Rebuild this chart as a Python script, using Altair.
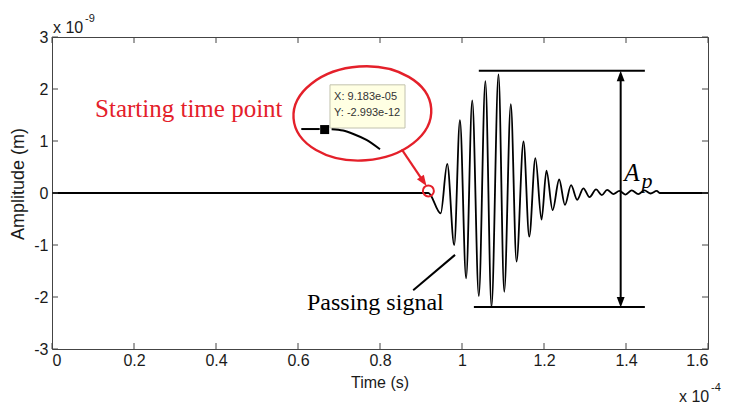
import altair as alt
import pandas as pd

# ---- data (time in units of 1e-4 s, amplitude in units of 1e-9 m) ----
t_sig = [0.0, 0.918, 0.948, 0.964, 0.981, 0.995, 1.010, 1.025, 1.041, 1.057,
         1.072, 1.089, 1.103, 1.119, 1.133, 1.150, 1.164, 1.179, 1.194, 1.206,
         1.221, 1.237, 1.251, 1.266, 1.281, 1.296, 1.311, 1.327, 1.341, 1.354,
         1.369, 1.384, 1.399, 1.414, 1.430, 1.445, 1.460, 1.475, 1.482, 1.6]
v_sig = [0.0, 0.0, -0.39, 0.56, -1.00, 1.40, -1.64, 1.78, -1.98, 2.15,
         -2.19, 2.28, -1.90, 1.71, -1.32, 0.99, -0.84, 0.67, -0.51, 0.43,
         -0.33, 0.26, -0.23, 0.15, -0.13, 0.09, -0.08, 0.07, -0.04, 0.06,
         -0.02, 0.04, -0.03, 0.05, -0.02, 0.05, -0.01, 0.04, 0.0, 0.0]

x_ticks = [0, 0.2, 0.4, 0.6, 0.8, 1.0, 1.2, 1.4, 1.6]
y_ticks = [-3, -2, -1, 0, 1, 2, 3]

# zoomed inset (inside the red ellipse)
inset_line_t = [0.608, 0.653]
inset_line_v = [1.23, 1.23]
marker_t = [0.665]
marker_v = [1.22]
inset_curve_t = [0.682, 0.710, 0.735, 0.767, 0.800]
inset_curve_v = [1.225, 1.20, 1.135, 1.02, 0.84]

# data tip
box_t = [0.678, 0.861]
box_v = [2.08, 1.25]
tip_text = ["X: 9.183e-05", "Y: -2.993e-12"]
tip_t = [0.688, 0.688]
tip_v = [1.85, 1.53]

# red annotations
ellipse_t = [0.757]
ellipse_v = [1.53]
start_t = [0.918]
start_v = [0.04]
red_arrow_t = [0.853, 0.906]
red_arrow_v = [0.84, 0.22]
start_label = ["Starting time point"]
start_label_t = [0.105]
start_label_v = [1.46]

# A_p measurement
ap_top_t = [1.041, 1.446]
ap_top_v = [2.35]
ap_bot_t = [1.029, 1.446]
ap_bot_v = [-2.19]
ap_arrow_t = [1.387]
ap_arrow_v = [2.25, -2.10]

# passing signal label
pass_line_t = [0.881, 0.983]
pass_line_v = [-1.87, -1.19]
pass_label = ["Passing signal"]
pass_label_t = [0.622]
pass_label_v = [-2.25]

W, H = 656, 312
RED = "#e4202a"
SANS = "Liberation Sans"
SERIF = "Liberation Serif"

xs = alt.Scale(domain=[0, 1.6], nice=False, zero=False)
ys = alt.Scale(domain=[-3, 3], nice=False, zero=False)


def X(field="t"):
    return alt.X(f"{field}:Q", scale=xs)


def Y(field="v"):
    return alt.Y(f"{field}:Q", scale=ys)


sig_df = pd.DataFrame({"t": t_sig, "v": v_sig})
signal = alt.Chart(sig_df).mark_line(
    color="black", strokeWidth=1.8, interpolate="monotone"
).encode(
    x=alt.X("t:Q", scale=xs, title="",
            axis=alt.Axis(values=x_ticks, labelExpr="'' + datum.value", ticks=False,
                          domain=False, grid=False, labelFontSize=16, labelFont=SANS,
                          labelColor="#1a1a1a", labelPadding=3)),
    y=alt.Y("v:Q", scale=ys, title="",
            axis=alt.Axis(values=y_ticks, labelExpr="'' + datum.value", ticks=False,
                          domain=False, grid=False, labelFontSize=16, labelFont=SANS,
                          labelColor="#1a1a1a", labelPadding=4)),
)

xt = pd.DataFrame({"t": x_ticks})
yt = pd.DataFrame({"v": y_ticks})
tick_style = dict(color="#444", strokeWidth=1)
ticks = [
    alt.Chart(xt).mark_rule(**tick_style).encode(x=X(), y=alt.value(H), y2=alt.value(H - 6)),
    alt.Chart(xt).mark_rule(**tick_style).encode(x=X(), y=alt.value(0), y2=alt.value(6)),
    alt.Chart(yt).mark_rule(**tick_style).encode(y=Y(), x=alt.value(0), x2=alt.value(6)),
    alt.Chart(yt).mark_rule(**tick_style).encode(y=Y(), x=alt.value(W), x2=alt.value(W - 6)),
]

# inset
inset_line = alt.Chart(pd.DataFrame({"t": inset_line_t, "v": inset_line_v})).mark_line(
    color="black", strokeWidth=2).encode(x=X(), y=Y())
inset_curve = alt.Chart(pd.DataFrame({"t": inset_curve_t, "v": inset_curve_v})).mark_line(
    color="black", strokeWidth=2, interpolate="monotone").encode(x=X(), y=Y())
marker = alt.Chart(pd.DataFrame({"t": marker_t, "v": marker_v})).mark_point(
    shape="square", filled=True, color="black", size=81, opacity=1).encode(x=X(), y=Y())

box = alt.Chart(pd.DataFrame({"t": [box_t[0]], "t2": [box_t[1]],
                              "v": [box_v[0]], "v2": [box_v[1]]})).mark_rect(
    fill="#ffffe3", stroke="#c2c2ae", strokeWidth=1).encode(
    x=X(), x2="t2:Q", y=Y(), y2="v2:Q")
tip = alt.Chart(pd.DataFrame({"t": tip_t, "v": tip_v, "s": tip_text})).mark_text(
    align="left", baseline="middle", font=SANS, fontSize=11, color="#333").encode(
    x=X(), y=Y(), text="s:N")

ELLIPSE = ("M-1,0 C-1,-0.376 -0.552,-0.681 0,-0.681 C0.552,-0.681 1,-0.376 1,0 "
           "C1,0.376 0.552,0.681 0,0.681 C-0.552,0.681 -1,0.376 -1,0 Z")
ellipse = alt.Chart(pd.DataFrame({"t": ellipse_t, "v": ellipse_v})).mark_point(
    shape=ELLIPSE, size=19044, filled=False, stroke=RED, strokeWidth=2.4,
    opacity=1, angle=356).encode(x=X(), y=Y())
start_circle = alt.Chart(pd.DataFrame({"t": start_t, "v": start_v})).mark_point(
    shape="circle", size=121, filled=False, stroke=RED, strokeWidth=2,
    opacity=1).encode(x=X(), y=Y())
red_arrow = alt.Chart(pd.DataFrame({"t": red_arrow_t, "v": red_arrow_v})).mark_line(
    color=RED, strokeWidth=2.2).encode(x=X(), y=Y())
HEAD = "M0,-1 L-0.75,1 L0.75,1 Z"
red_head = alt.Chart(pd.DataFrame({"t": [red_arrow_t[1]], "v": [red_arrow_v[1]]})).mark_point(
    shape=HEAD, size=121, filled=True, color=RED, opacity=1, angle=146).encode(x=X(), y=Y())
start_text = alt.Chart(pd.DataFrame({"t": start_label_t, "v": start_label_v,
                                     "s": start_label})).mark_text(
    align="left", baseline="alphabetic", font=SERIF, fontSize=25, color=RED).encode(
    x=X(), y=Y(), text="s:N")

# A_p
ap_top = alt.Chart(pd.DataFrame({"t": [ap_top_t[0]], "t2": [ap_top_t[1]], "v": ap_top_v})).mark_rule(
    color="black", strokeWidth=2).encode(x=X(), x2="t2:Q", y=Y())
ap_bot = alt.Chart(pd.DataFrame({"t": [ap_bot_t[0]], "t2": [ap_bot_t[1]], "v": ap_bot_v})).mark_rule(
    color="black", strokeWidth=2).encode(x=X(), x2="t2:Q", y=Y())
ap_vert = alt.Chart(pd.DataFrame({"t": ap_arrow_t, "v": [ap_arrow_v[0]], "v2": [ap_arrow_v[1]]})).mark_rule(
    color="black", strokeWidth=2).encode(x=X(), y=Y(), y2="v2:Q")
ap_heads = alt.Chart(pd.DataFrame({"t": ap_arrow_t * 2, "v": ap_arrow_v, "a": [0, 180]})).mark_point(
    shape=HEAD, size=110, filled=True, color="black", opacity=1).encode(
    x=X(), y=Y(), angle=alt.Angle("a:Q", scale=None))
ap_A = alt.Chart(pd.DataFrame({"t": [1.396], "v": [0.24], "s": ["A"]})).mark_text(
    align="left", baseline="alphabetic", font=SERIF, fontSize=25, fontStyle="italic",
    color="black").encode(x=X(), y=Y(), text="s:N")
ap_p = alt.Chart(pd.DataFrame({"t": [1.438], "v": [0.10], "s": ["p"]})).mark_text(
    align="left", baseline="alphabetic", font=SERIF, fontSize=22, fontStyle="italic",
    color="black").encode(x=X(), y=Y(), text="s:N")

# passing signal
pass_line = alt.Chart(pd.DataFrame({"t": pass_line_t, "v": pass_line_v})).mark_line(
    color="black", strokeWidth=2).encode(x=X(), y=Y())
pass_text = alt.Chart(pd.DataFrame({"t": pass_label_t, "v": pass_label_v,
                                    "s": pass_label})).mark_text(
    align="left", baseline="alphabetic", font=SERIF, fontSize=24, color="black").encode(
    x=X(), y=Y(), text="s:N")

# axis titles and exponent labels (outside plot area)
one = pd.DataFrame({"k": [0]})
deco = [
    alt.Chart(one).mark_text(text="Time (s)", align="center", baseline="alphabetic",
                             font=SANS, fontSize=16, color="#1a1a1a").encode(
        x=alt.value(W / 2), y=alt.value(351)),
    alt.Chart(one).mark_text(text="Amplitude (m)", align="center", baseline="middle",
                             font=SANS, fontSize=18, angle=270,
                             color="#1a1a1a").encode(
        x=alt.value(-33), y=alt.value(147)),
    alt.Chart(one).mark_text(text="x 10", align="left", baseline="alphabetic",
                             font=SANS, fontSize=16, color="#1a1a1a").encode(
        x=alt.value(1), y=alt.value(-4)),
    alt.Chart(one).mark_text(text="-9", align="left", baseline="alphabetic",
                             font=SANS, fontSize=11, color="#1a1a1a").encode(
        x=alt.value(33), y=alt.value(-15)),
    alt.Chart(one).mark_text(text="x 10", align="left", baseline="alphabetic",
                             font=SANS, fontSize=16, color="#1a1a1a").encode(
        x=alt.value(627), y=alt.value(365)),
    alt.Chart(one).mark_text(text="-4", align="left", baseline="alphabetic",
                             font=SANS, fontSize=11, color="#1a1a1a").encode(
        x=alt.value(659), y=alt.value(354)),
]

chart = alt.layer(
    signal, *ticks,
    ap_top, ap_bot, ap_vert, ap_heads, ap_A, ap_p,
    pass_line, pass_text,
    ellipse, box, tip, inset_line, inset_curve, marker,
    start_circle, red_arrow, red_head, start_text,
    *deco,
).properties(
    width=W, height=H,
    padding={"left": 44, "top": 29, "right": 14, "bottom": 55},
    autosize=alt.AutoSizeParams(type="none"),
    background="white",
).configure_view(stroke="#444", strokeWidth=1)

chart.save("out.html", embed_options={"renderer": "svg", "actions": False})
